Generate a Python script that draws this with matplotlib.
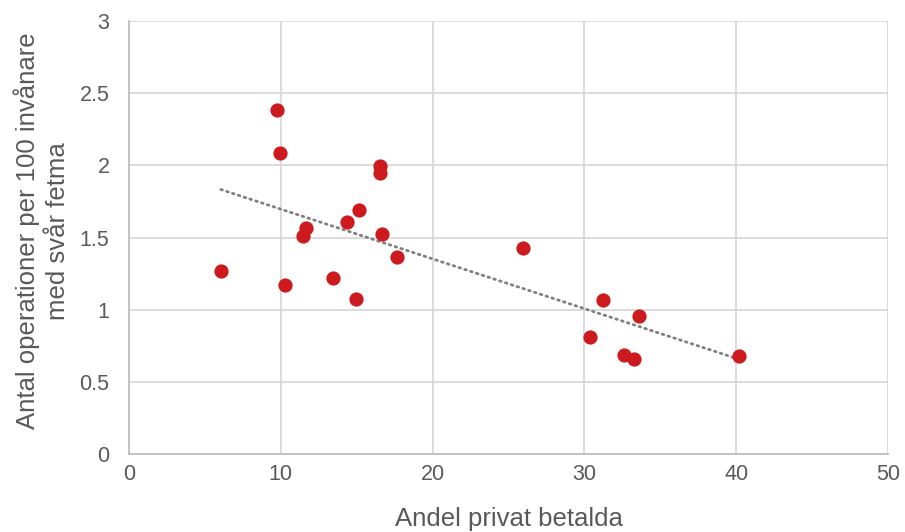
import numpy as np
import matplotlib.pyplot as plt

# andel privat betalda (%) och operationer per 100 invånare med svår fetma
andel_privat = [6.05, 9.74, 9.95, 10.26, 11.45, 11.66, 13.47, 14.34, 14.95, 15.13,
                16.53, 16.53, 16.66, 17.68, 25.97, 30.38, 31.2, 32.59, 33.24, 33.57, 40.18]
operationer = [1.266, 2.386, 2.086, 1.174, 1.51, 1.568, 1.219, 1.606, 1.072, 1.69,
               1.992, 1.945, 1.523, 1.362, 1.429, 0.809, 1.067, 0.685, 0.657, 0.959, 0.676]

x_ticks = [0, 10, 20, 30, 40, 50]
y_ticks = [0, 0.5, 1, 1.5, 2, 2.5, 3]
y_tick_labels = ['0', '0.5', '1', '1.5', '2', '2.5', '3']

plt.rcParams['font.family'] = ['Liberation Sans', 'DejaVu Sans']
text_color = '#595959'
narrow = ['Liberation Sans Narrow', 'Liberation Sans', 'DejaVu Sans']

fig = plt.figure(figsize=(9.05, 5.32), dpi=100)
ax = fig.add_axes([129 / 905, 1 - 454 / 532, (888 - 129) / 905, (454 - 21) / 532])

# trendlinje (linjär)
k, m = np.polyfit(andel_privat, operationer, 1)
xs = np.array([min(andel_privat), max(andel_privat)])
ax.plot(xs, k * xs + m, color='#808080', linestyle=(0, (0.6, 1.6)), linewidth=2.0,
        dash_capstyle='round', zorder=2)

ax.scatter(andel_privat, operationer, s=105, color='#cc1a1e', zorder=3, linewidths=0)

ax.set_xlim(0, 50)
ax.set_ylim(0, 3)
ax.set_xticks(x_ticks)
ax.set_yticks(y_ticks)
ax.set_yticklabels(y_tick_labels)
ax.grid(True, color='#d9d9d9', linewidth=1.3)
ax.set_axisbelow(True)

for side in ['top', 'right']:
    ax.spines[side].set_visible(False)
for side in ['left', 'bottom']:
    ax.spines[side].set_color('#bfbfbf')
    ax.spines[side].set_linewidth(1.3)

ax.tick_params(length=0, labelsize=15.5, colors=text_color)
ax.tick_params(axis='x', pad=7)
ax.tick_params(axis='y', pad=14)
for lbl in ax.get_xticklabels() + ax.get_yticklabels():
    lbl.set_family(narrow)

ax.set_xlabel('Andel privat betalda', fontsize=18.5, color=text_color, labelpad=16,
              family=narrow)
ax.set_ylabel('Antal operationer per 100 invånare\nmed svår fetma', fontsize=18.5,
              color=text_color, labelpad=7, linespacing=1.3)
ax.yaxis.label.set_y(0.515)

fig.savefig('out.png', dpi=100)
